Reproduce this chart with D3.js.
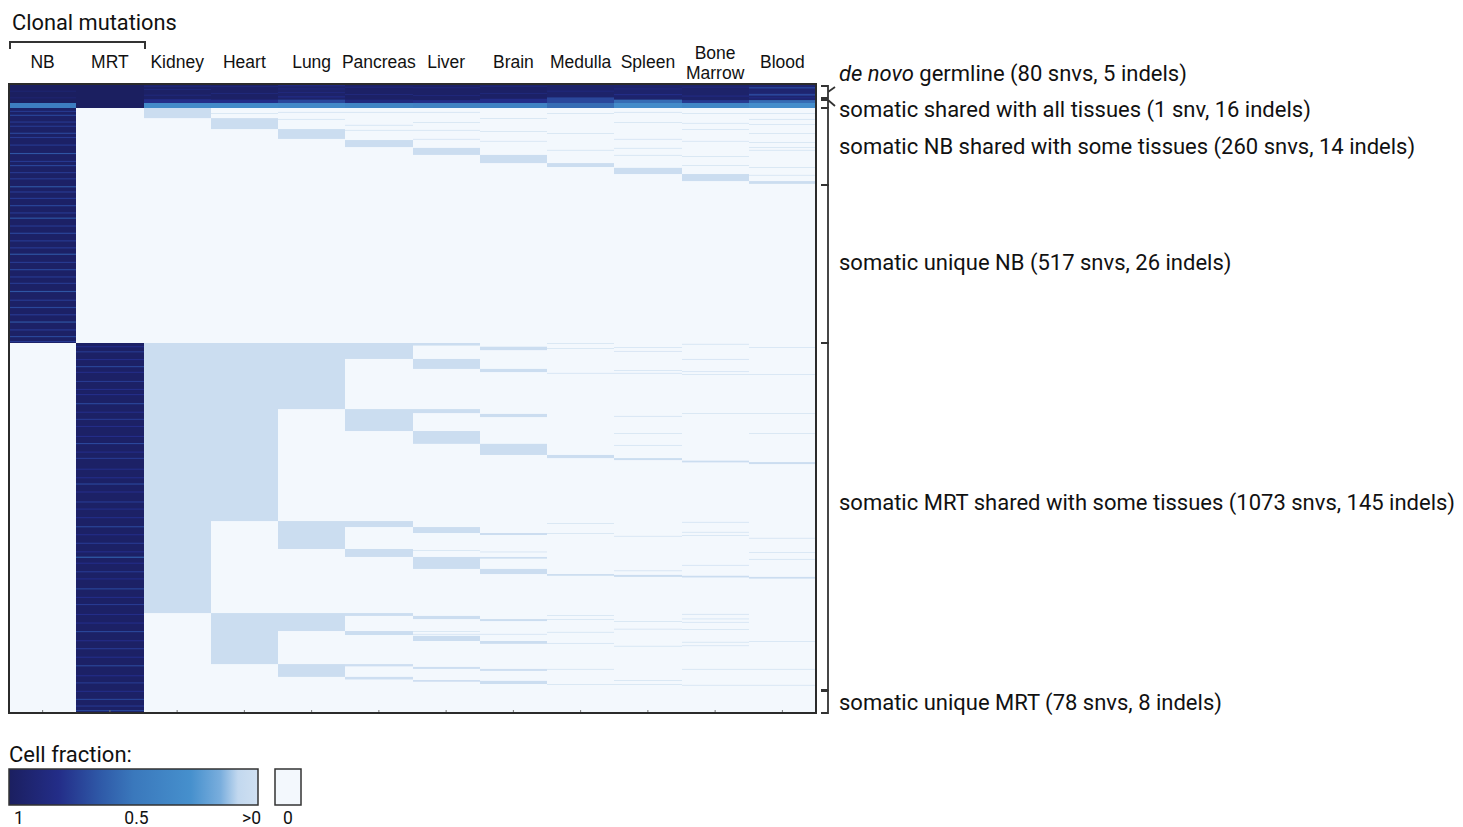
<!DOCTYPE html>
<html><head><meta charset="utf-8">
<script src="https://cdn.jsdelivr.net/npm/d3@7"></script>
<style>body{margin:0;background:#fff;} svg{display:block;font-family:Roboto, "Noto Sans", sans-serif;}</style>
</head><body>
<svg id="chart" width="1463" height="827"></svg>
<script>
// ---------------- DATA ----------------
const columns = ["NB","MRT","Kidney","Heart","Lung","Pancreas","Liver","Brain","Medulla","Spleen","Bone Marrow","Blood"];
const sectionCounts = [85, 17, 274, 543, 1218, 86];
const sectionLabels = [
  ["de novo", " germline (80 snvs, 5 indels)"],
  ["", "somatic shared with all tissues (1 snv, 16 indels)"],
  ["", "somatic NB shared with some tissues (260 snvs, 14 indels)"],
  ["", "somatic unique NB (517 snvs, 26 indels)"],
  ["", "somatic MRT shared with some tissues (1073 snvs, 145 indels)"],
  ["", "somatic unique MRT (78 snvs, 8 indels)"]
];
// base cell fraction of each section in each column
const germlineBase  = [1, 1, 0.97, 0.97, 0.95, 0.97, 0.97, 0.97, 0.95, 0.94, 0.95, 0.92];
const sharedAllBase = [0.45, 1, 0.32, 0.32, 0.34, 0.38, 0.4, 0.4, 0.55, 0.32, 0.36, 0.3];
const nbSharedBase  = [0.97, 0, 0, 0, 0, 0, 0, 0, 0, 0, 0, 0];
const nbUniqueBase  = [0.97, 0, 0, 0, 0, 0, 0, 0, 0, 0, 0, 0];
const mrtSharedBase = [0, 0.97, 0, 0, 0, 0, 0, 0, 0, 0, 0, 0];
const mrtUniqueBase = [0, 0.97, 0, 0, 0, 0, 0, 0, 0, 0, 0, 0];

// [column, startRow, endRow, cell fraction]
const germlineStripes = [
  [0,30,34,0.9],[0,60,64,0.9],
  [2,8,12,0.85],[2,22,26,0.85],[2,48,52,0.85],[2,68,85,0.8],
  [3,10,14,0.85],[3,40,44,0.85],[3,70,85,0.8],
  [4,6,10,0.8],[4,20,24,0.85],[4,36,40,0.85],[4,55,60,0.8],[4,70,85,0.7],
  [5,12,16,0.85],[5,45,49,0.85],[5,70,85,0.85],
  [6,15,19,0.85],[6,50,54,0.85],[6,72,85,0.8],
  [7,8,12,0.85],[7,40,44,0.85],[7,66,85,0.8],
  [8,30,34,0.85],[8,60,85,0.7],
  [9,20,24,0.85],[9,45,50,0.8],[9,70,85,0.55],
  [10,12,16,0.85],[10,52,56,0.8],[10,72,85,0.75],
  [11,14,20,0.7],[11,44,52,0.7],[11,60,64,0.8],[11,72,85,0.55]
];
const nbSharedBlocks = [
  [2,102,138,0.03],[3,138,177,0.03],[4,177,212,0.03],[5,216,241,0.03],[6,244,269,0.03],
  [7,269,298,0.03],[8,298,312,0.03],[9,315,337,0.03],[10,337,362,0.03],[11,362,372,0.03]
];
const mrtSharedBlocks = [
  [2,919,1867,0.03],
  [3,919,1544,0.03],[3,1867,2046,0.03],
  [4,919,1151,0.03],[4,1544,1642,0.03],[4,1867,1930,0.03],[4,2046,2091,0.03],
  [5,919,975,0.03],[5,1151,1228,0.03],[5,1544,1565,0.03],[5,1642,1670,0.03],[5,1867,1877,0.03],[5,1930,1944,0.03],[5,2046,2054,0.02],[5,2091,2100,0.02],
  [6,919,928,0.03],[6,975,1010,0.03],[6,1151,1165,0.03],[6,1228,1273,0.03],[6,1565,1586,0.03],[6,1670,1712,0.03],[6,1877,1888,0.03],[6,1947,1965,0.03],[6,2056,2063,0.02],[6,2102,2108,0.02],
  [7,932,944,0.03],[7,1010,1021,0.03],[7,1168,1179,0.03],[7,1273,1312,0.03],[7,1586,1593,0.03],[7,1670,1676,0.02],[7,1712,1730,0.03],[7,1888,1895,0.03],[7,1965,1975,0.03],[7,2063,2070,0.02],[7,2105,2116,0.03],
  [8,1312,1323,0.03],[8,1730,1736,0.03],
  [9,1323,1330,0.03],[9,1733,1740,0.03],
  [10,1332,1338,0.03],[10,1736,1742,0.03],
  [11,1337,1344,0.03],[11,1740,1746,0.03]
];
// faint single-mutation lines [column, row]
const faintLines = [
  [3,120],[4,116],[4,141],[5,116],[5,162],[5,180],[6,116],[6,152],[6,180],[6,212],[7,138],[7,184],[7,219],
  [8,120],[8,191],[8,251],[9,116],[9,152],[9,212],[9,244],[9,269],[10,120],[10,155],[10,177],[10,219],[10,273],[10,305],
  [11,120],[11,141],[11,159],[11,191],[11,223],[11,241],[11,251],[11,312],[11,340],
  [8,919],[8,937],[8,1024],[8,1551],[8,1586],[8,1874],[8,1888],[8,1933],[8,1972],[8,2063],[8,2116],
  [9,933],[9,947],[9,1014],[9,1024],[9,1175],[9,1235],[9,1277],[9,1596],[9,1717],[9,1895],[9,1922],[9,1982],[9,2102],[9,2116],
  [10,922],[10,975],[10,1018],[10,1028],[10,1165],[10,1547],[10,1582],[10,1593],[10,1698],[10,1870],[10,1886],[10,1898],[10,1923],[10,1968],[10,1980],[10,2063],[10,2119],
  [11,933],[11,1028],[11,1165],[11,1235],[11,1603],[11,1653],[11,1677],[11,1965],[11,2063],[11,2119],
  [6,1646],[6,1930],[6,1940],[5,1553],[5,1940],[7,1651],[7,1940]
];
// lighter stripes in tumour columns [column, row, cell fraction]
const nbStripes = [
  [0,112,0.75],[0,126,0.7],[0,150,0.75],[0,165,0.75],[0,190,0.7],[0,205,0.75],[0,232,0.75],[0,262,0.65],[0,290,0.75],
  [0,305,0.7],[0,330,0.75],[0,352,0.75],[0,380,0.65],[0,398,0.75],[0,420,0.75],[0,445,0.7],[0,470,0.75],[0,488,0.65],
  [0,515,0.75],[0,540,0.7],[0,566,0.75],[0,590,0.75],[0,612,0.65],[0,640,0.75],[0,665,0.7],[0,690,0.75],[0,712,0.75],
  [0,740,0.65],[0,770,0.75],[0,795,0.7],[0,820,0.75],[0,845,0.65],[0,872,0.75],[0,895,0.7],[0,912,0.75]
];
const mrtStripes = [
  [1,930,0.8],[1,948,0.75],[1,975,0.8],[1,1000,0.7],[1,1020,0.8],[1,1052,0.75],[1,1080,0.8],[1,1098,0.8],[1,1130,0.7],
  [1,1160,0.8],[1,1185,0.75],[1,1210,0.8],[1,1245,0.8],[1,1270,0.7],[1,1300,0.8],[1,1322,0.75],[1,1360,0.8],[1,1390,0.8],
  [1,1412,0.7],[1,1440,0.8],[1,1475,0.75],[1,1500,0.8],[1,1530,0.8],[1,1562,0.7],[1,1590,0.8],[1,1620,0.75],[1,1650,0.8],
  [1,1669,0.6],[1,1690,0.8],[1,1720,0.75],[1,1745,0.8],[1,1780,0.7],[1,1810,0.8],[1,1835,0.75],[1,1870,0.8],[1,1900,0.8],
  [1,1930,0.7],[1,1962,0.8],[1,1990,0.75],[1,2020,0.8],[1,2050,0.7],[1,2085,0.8],[1,2110,0.75],[1,2140,0.8],[1,2170,0.7],
  [1,2195,0.75],[1,2212,0.7]
];
const legendLabels = ["1", "0.5", ">0"];
const legendValues = [1, 0.5, 0];

// ---------------- CHART ----------------
const svg = d3.select("#chart");
const sectionBases = [germlineBase, sharedAllBase, nbSharedBase, nbUniqueBase, mrtSharedBase, mrtUniqueBase];
const cum = [0];
sectionCounts.forEach(c => cum.push(cum[cum.length - 1] + c));

const x = d3.scaleBand().domain(columns).range([9, 816]);
const y = d3.scaleLinear().domain(cum).range([84, 103, 108, 185, 343, 690, 713]);
const zeroColor = "#f3f8fd";
const color = d3.scaleLinear()
  .domain([0, 0.08, 0.15, 0.27, 0.5, 0.63, 0.8, 1])
  .range(["#d0e0f1", "#c2d8ef", "#7aaedd", "#4690cd", "#3a78bc", "#2f5aa8", "#232d88", "#1b1f60"]);
const fill = v => v === 0 ? zeroColor : color(v);

const colX0 = c => Math.round(x(columns[c]));
const colX1 = c => Math.round(x(columns[c]) + x.bandwidth());

const cells = [];
sectionBases.forEach((base, s) => base.forEach((v, c) => {
  if (v > 0) cells.push({c, r0: cum[s], r1: cum[s + 1], v});
}));
[germlineStripes, nbSharedBlocks, mrtSharedBlocks].forEach(arr =>
  arr.forEach(([c, r0, r1, v]) => cells.push({c, r0, r1, v})));
nbStripes.concat(mrtStripes).forEach(([c, r, v]) => cells.push({c, r0: r, r1: r + 4, v}));

const g = svg.append("g");
g.append("rect").attr("x", 9).attr("y", 84).attr("width", 807).attr("height", 629).attr("fill", zeroColor);
g.selectAll("rect.cell").data(cells).join("rect").attr("class", "cell")
  .attr("x", d => colX0(d.c)).attr("width", d => colX1(d.c) - colX0(d.c))
  .attr("y", d => y(d.r0)).attr("height", d => Math.max(0.5, y(d.r1) - y(d.r0)))
  .attr("fill", d => fill(d.v));
g.selectAll("rect.faint").data(faintLines).join("rect").attr("class", "faint")
  .attr("x", d => colX0(d[0])).attr("width", d => colX1(d[0]) - colX0(d[0]))
  .attr("y", d => y(d[1])).attr("height", d => y(d[1] + 3) - y(d[1]))
  .attr("fill", color(0.03)).attr("opacity", 0.75);

// bottom inner ticks
const bottomAxis = svg.append("g").attr("transform", "translate(0,713)")
  .call(d3.axisBottom(x).tickSizeInner(-3).tickSizeOuter(0).tickFormat(""));
bottomAxis.select(".domain").remove();
bottomAxis.selectAll(".tick line").attr("stroke", "#777");

// border
svg.append("rect").attr("x", 9).attr("y", 84).attr("width", 807).attr("height", 629)
  .attr("fill", "none").attr("stroke", "#2b2b2b").attr("stroke-width", 2);

// column labels
const topAxis = svg.append("g").attr("transform", "translate(0,62)")
  .call(d3.axisTop(x).tickSize(0).tickPadding(0));
topAxis.select(".domain").remove();
topAxis.selectAll(".tick text").remove();
topAxis.selectAll(".tick").each(function(d) {
  const t = d3.select(this).append("text").attr("fill", "#111").attr("font-size", 17.5)
    .attr("text-anchor", "middle");
  const parts = d.split(" ");
  if (parts.length > 1) {
    t.append("tspan").attr("x", 0).attr("y", -9).attr("dy", "0.35em").text(parts[0]);
    t.append("tspan").attr("x", 0).attr("y", 11).attr("dy", "0.35em").text(parts[1]);
  } else {
    t.attr("y", 0).attr("dy", "0.35em").text(d);
  }
});

// clonal mutations header
svg.append("text").attr("x", 12).attr("y", 22).attr("dy", "0.35em").attr("font-size", 21.8)
  .attr("fill", "#111").text("Clonal mutations");
svg.append("path").attr("d", "M10,49V42H145V49").attr("fill", "none")
  .attr("stroke", "#333").attr("stroke-width", 2);

// right brackets and labels
const bx = 828, bt = 821;
const br = svg.append("g").attr("fill", "none").attr("stroke", "#333").attr("stroke-width", 1.8);
br.append("path").attr("d", `M${bt},86H${bx}V98H${bt} M${bx},92L${bx + 7},87`);
br.append("path").attr("d", `M${bt},100H${bx}V108 M${bx},100L${bx + 7},106`);
[2, 3, 4].forEach(s => {
  const y0 = y(cum[s]), y1 = y(cum[s + 1]);
  br.append("path").attr("d", `M${bt},${y0}H${bx}V${y1}H${bt}`);
});
br.append("path").attr("d", `M${bt},${y(cum[5]) + 1}H${bx}V${y(cum[6])}H${bt}`);

const labelY = [73, 109, 146, 262, 502, 702];
sectionLabels.forEach((lab, i) => {
  const t = svg.append("text").attr("x", 839).attr("y", labelY[i]).attr("dy", "0.35em")
    .attr("font-size", 22).attr("fill", "#111");
  if (lab[0]) t.append("tspan").attr("font-style", "italic").text(lab[0]);
  t.append("tspan").text(lab[1]);
});

// legend
svg.append("text").attr("x", 9).attr("y", 754).attr("dy", "0.35em").attr("font-size", 22)
  .attr("fill", "#111").text("Cell fraction:");
const lx = d3.scaleLinear().domain([1, 0]).range([9, 258]);
const grad = svg.append("defs").append("linearGradient").attr("id", "lg")
  .attr("x1", "0%").attr("x2", "100%").attr("y1", "0%").attr("y2", "0%");
color.domain().slice().reverse().forEach(v =>
  grad.append("stop").attr("offset", (1 - v) * 100 + "%").attr("stop-color", color(v)));
svg.append("rect").attr("x", lx(1)).attr("y", 769).attr("width", lx(0) - lx(1)).attr("height", 36)
  .attr("fill", "url(#lg)").attr("stroke", "#333").attr("stroke-width", 1.5);
svg.append("rect").attr("x", 275).attr("y", 769).attr("width", 26).attr("height", 36)
  .attr("fill", zeroColor).attr("stroke", "#333").attr("stroke-width", 1.5);
const anchors = ["start", "middle", "end"];
const shifts = [5, 3, 3];
legendLabels.forEach((l, i) => {
  svg.append("text").attr("x", lx(legendValues[i]) + shifts[i]).attr("y", 818).attr("dy", "0.35em")
    .attr("text-anchor", anchors[i]).attr("font-size", 17.5).attr("fill", "#111").text(l);
});
svg.append("text").attr("x", 288).attr("y", 818).attr("dy", "0.35em").attr("text-anchor", "middle")
  .attr("font-size", 17.5).attr("fill", "#111").text("0");
</script>
</body></html>
